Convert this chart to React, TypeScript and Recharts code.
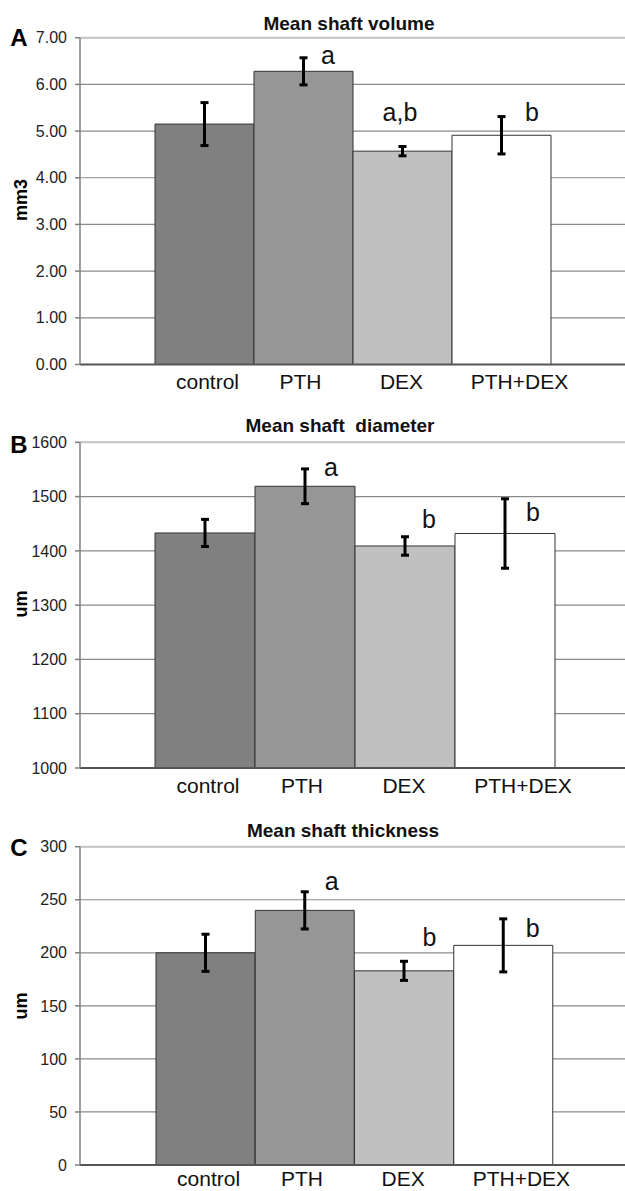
import React from "react";
import {
  BarChart,
  Bar,
  XAxis,
  YAxis,
  CartesianGrid,
  Cell,
  ErrorBar,
  LabelList,
  ReferenceLine,
} from "recharts";

const categories = ["control", "PTH", "DEX", "PTH+DEX"];

const volumeMeans = [5.15, 6.28, 4.57, 4.91];
const volumeErrors = [0.46, 0.29, 0.1, 0.4];
const volumeLetters = ["", "a", "a,b", "b"];
const volumeTicks = [0, 1, 2, 3, 4, 5, 6, 7];

const diameterMeans = [1433, 1519, 1409, 1432];
const diameterErrors = [25, 32, 17, 64];
const diameterLetters = ["", "a", "b", "b"];
const diameterTicks = [1000, 1100, 1200, 1300, 1400, 1500, 1600];

const thicknessMeans = [200, 240, 183, 207];
const thicknessErrors = [17.5, 17.5, 9, 25];
const thicknessLetters = ["", "a", "b", "b"];
const thicknessTicks = [0, 50, 100, 150, 200, 250, 300];

const fills = ["#808080", "#969696", "#c0c0c0", "#ffffff"];
const font = '"Liberation Sans", Arial, sans-serif';
const labelShift = [3, -3, -1, 18];

function makeRows(means: number[], errors: number[], letters: string[]) {
  return categories.map((name, i) => ({
    name,
    value: means[i],
    err: errors[i],
    letter: letters[i],
  }));
}

const makeTick = (drop: number) => (props: any) => {
  const { x, y, payload, index } = props;
  return (
    <text
      x={x + labelShift[index]}
      y={y + drop}
      textAnchor="middle"
      dominantBaseline="central"
      fontSize={21}
      fontFamily={font}
      fill="#111"
    >
      {payload.value}
    </text>
  );
};

interface PanelProps {
  rows: any[];
  ticks: number[];
  fmt: (v: number) => string;
  top: number;
  marginTop: number;
  marginBottom: number;
  padLeft: number;
  padRight: number;
  labelDrop: number;
  title: string;
  titleX: number;
  titleY: number;
  panel: string;
  panelY: number;
  yTitle: string;
  yTitleY: number;
  letterPos: { dx: number; dy: number }[];
}

function Panel(p: PanelProps) {
  const lo = p.ticks[0];
  const hi = p.ticks[p.ticks.length - 1];
  const Tick = makeTick(p.labelDrop);
  return (
    <>
      <div
        style={{
          position: "absolute",
          left: p.titleX,
          top: p.titleY,
          transform: "translate(-50%, -50%)",
          fontFamily: font,
          fontWeight: "bold",
          fontSize: 19,
          whiteSpace: "pre",
          color: "#111",
        }}
      >
        {p.title}
      </div>
      <div
        style={{
          position: "absolute",
          left: 19,
          top: p.panelY,
          transform: "translate(-50%, -50%)",
          fontFamily: font,
          fontWeight: "bold",
          fontSize: 24,
          color: "#000",
        }}
      >
        {p.panel}
      </div>
      <div
        style={{
          position: "absolute",
          left: 21,
          top: p.yTitleY,
          transform: "translate(-50%, -50%) rotate(-90deg)",
          fontFamily: font,
          fontWeight: "bold",
          fontSize: 18,
          color: "#000",
        }}
      >
        {p.yTitle}
      </div>
      <div style={{ position: "absolute", left: 0, top: p.top }}>
        <BarChart
          width={625}
          height={400}
          data={p.rows}
          barCategoryGap={0}
          margin={{ top: p.marginTop, right: 0, bottom: p.marginBottom, left: 0 }}
        >
          <CartesianGrid vertical={false} stroke="#8a8a8a" strokeWidth={1.2} />
          <ReferenceLine y={hi} stroke="#c4c4c4" strokeWidth={2} />
          <XAxis
            dataKey="name"
            padding={{ left: p.padLeft, right: p.padRight }}
            axisLine={{ stroke: "#555", strokeWidth: 2 }}
            tickLine={false}
            tickSize={0}
            tickMargin={0}
            height={30}
            tick={<Tick />}
            interval={0}
          />
          <YAxis
            width={80}
            domain={[lo, hi]}
            ticks={p.ticks}
            interval={0}
            tickFormatter={p.fmt}
            axisLine={{ stroke: "#808080", strokeWidth: 1.5 }}
            tickLine={{ stroke: "#808080", strokeWidth: 1.5 }}
            tickSize={5}
            tickMargin={8}
            tick={{ fill: "#222", fontSize: 16, fontFamily: font }}
          />
          <Bar dataKey="value" stroke="#333" strokeWidth={1} isAnimationActive={false}>
            {p.rows.map((r, i) => (
              <Cell key={r.name} fill={fills[i]} />
            ))}
            <ErrorBar dataKey="err" direction="y" width={4} stroke="#000" strokeWidth={3} />
            <LabelList
              dataKey="letter"
              content={(lp: any) => {
                const { x, y, width, value, index } = lp;
                if (!value) return null;
                const o = p.letterPos[index];
                return (
                  <text
                    x={Number(x) + Number(width) / 2 + o.dx}
                    y={Number(y) + o.dy}
                    textAnchor="middle"
                    dominantBaseline="central"
                    fontSize={25}
                    fontFamily={font}
                    fill="#111"
                  >
                    {value}
                  </text>
                );
              }}
            />
          </Bar>
        </BarChart>
      </div>
    </>
  );
}

export default function App() {
  return (
    <div
      style={{
        position: "absolute",
        left: 0,
        top: 0,
        width: 625,
        height: 1191,
        overflow: "hidden",
        background: "#fff",
      }}
    >
      <Panel
        rows={makeRows(volumeMeans, volumeErrors, volumeLetters)}
        ticks={volumeTicks}
        fmt={(v) => v.toFixed(2)}
        top={0}
        marginTop={37.7}
        marginBottom={5.5}
        padLeft={75}
        padRight={74}
        labelDrop={17}
        title="Mean shaft volume"
        titleX={349}
        titleY={24}
        panel="A"
        panelY={37.5}
        yTitle="mm3"
        yTitleY={200}
        letterPos={[
          { dx: 0, dy: 0 },
          { dx: 24.5, dy: -16 },
          { dx: -2.5, dy: -39 },
          { dx: 30.5, dy: -23 },
        ]}
      />
      <Panel
        rows={makeRows(diameterMeans, diameterErrors, diameterLetters)}
        ticks={diameterTicks}
        fmt={(v) => String(v)}
        top={400}
        marginTop={42.3}
        marginBottom={2}
        padLeft={75}
        padRight={70}
        labelDrop={17}
        title={"Mean shaft  diameter"}
        titleX={340}
        titleY={426}
        panel="B"
        panelY={444.5}
        yTitle="um"
        yTitleY={604}
        letterPos={[
          { dx: 0, dy: 0 },
          { dx: 26, dy: -19 },
          { dx: 24, dy: -27 },
          { dx: 28, dy: -21 },
        ]}
      />
      <Panel
        rows={makeRows(thicknessMeans, thicknessErrors, thicknessLetters)}
        ticks={thicknessTicks}
        fmt={(v) => String(v)}
        top={800}
        marginTop={46.7}
        marginBottom={5}
        padLeft={76}
        padRight={72}
        labelDrop={13}
        title="Mean shaft thickness"
        titleX={343}
        titleY={831}
        panel="C"
        panelY={848}
        yTitle="um"
        yTitleY={1006}
        letterPos={[
          { dx: 0, dy: 0 },
          { dx: 27, dy: -29 },
          { dx: 25.5, dy: -34 },
          { dx: 29.5, dy: -17 },
        ]}
      />
    </div>
  );
}
